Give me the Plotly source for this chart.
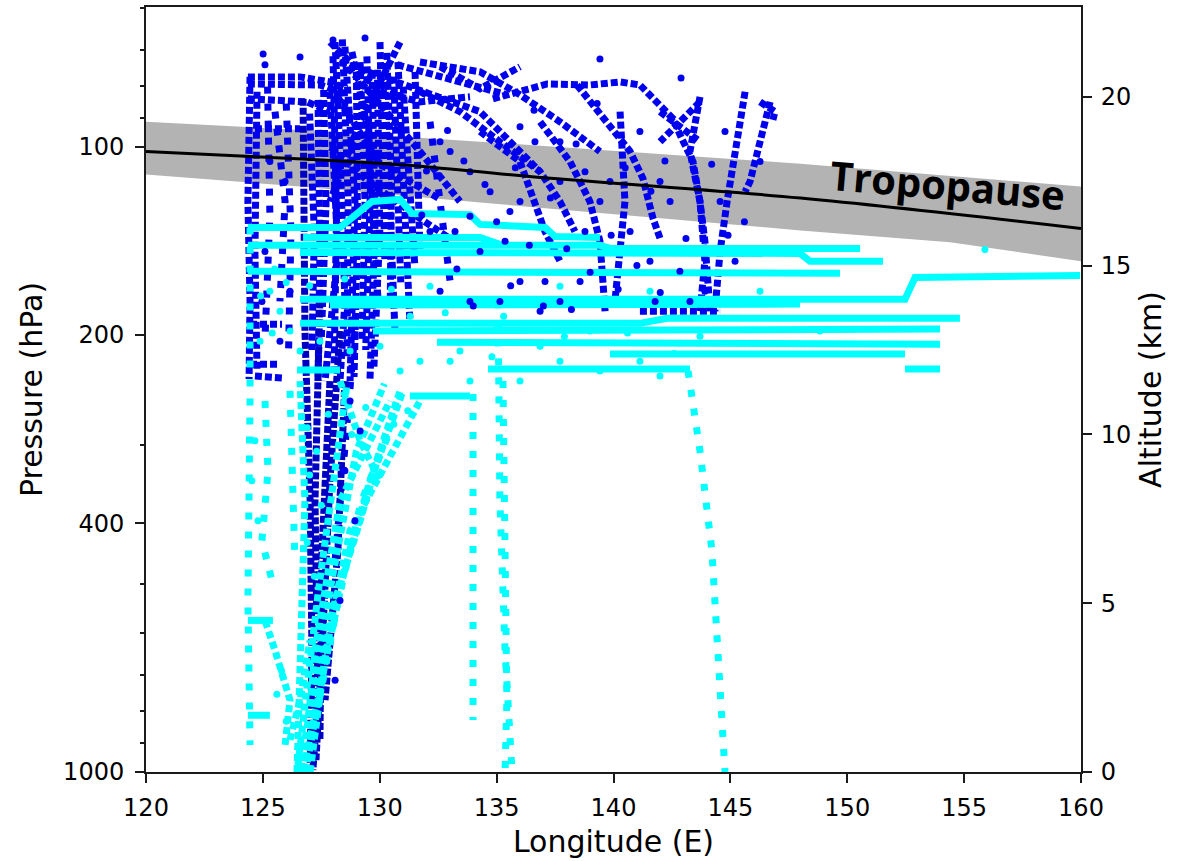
import math
import plotly.graph_objects as go

# ---------------------------------------------------------------------------
# Axis geometry: altitude (km) on the right, pressure (hPa, log) on the left.
# 100 hPa sits at 18.52 km; one pressure decade spans 18.52 km.
# ---------------------------------------------------------------------------
ALT_TOP = 22.66
KM_PER_DECADE = 18.52
P_TOP = 10 ** (3 - ALT_TOP / KM_PER_DECADE)

lon_ticks = [120, 125, 130, 135, 140, 145, 150, 155, 160]
alt_ticks = [0, 5, 10, 15, 20]
p_ticks = [100, 200, 400, 1000]
p_minor_ticks = [60, 70, 80, 90, 300, 500, 600, 700, 800, 900]

# Tropopause (km) and its uncertainty band
tropopause_lon = [120.0, 123.6, 130.9, 136.4, 148.0, 160.0]
tropopause_alt = [18.38, 18.26, 17.99, 17.64, 17.00, 16.10]
band_top_lon = [120.0, 126.6, 134.3, 148.0, 160.0]
band_top_alt = [19.26, 19.02, 18.67, 18.02, 17.34]
band_bot_lon = [120.0, 126.6, 134.3, 148.0, 154.4, 160.0]
band_bot_alt = [17.70, 17.34, 16.87, 16.04, 15.69, 15.13]

# ---------------------------------------------------------------------------
# Blue trajectories (longitude, altitude km)
# ---------------------------------------------------------------------------
blue_upper_tracks = [
    ([124.45, 124.36, 124.45, 124.41], [20.59, 16.90, 13.94, 11.64]),
    ([124.75, 124.66, 124.75], [20.15, 15.42, 11.88]),
    ([124.36, 126.59, 127.87, 128.60], [20.59, 20.59, 20.44, 20.24]),
    ([124.36, 127.44, 128.51], [20.38, 20.35, 20.09]),
    ([124.36, 126.89, 127.87], [19.94, 19.85, 19.56]),
    ([124.66, 126.59], [19.05, 19.05]),
    ([130.74, 135.44], [20.95, 20.06]),
    ([124.45, 125.82], [13.26, 13.26]),
    ([124.45, 125.73], [12.08, 12.08]),
    ([124.66, 125.82], [11.73, 11.67]),
]

blue_column_tracks = [
    ([128.09, 128.30, 128.51, 128.30], [21.62, 18.38, 13.94, 11.58]),
    ([128.51, 128.94, 128.73], [21.48, 16.90, 11.58]),
    ([129.16, 129.37, 129.24], [21.03, 16.90, 12.76]),
    ([129.67, 129.80, 129.58], [20.74, 16.31, 11.58]),
    ([130.22, 130.44, 130.65], [20.44, 16.90, 13.06]),
    ([130.78, 131.08, 131.29], [21.03, 16.90, 13.35]),
    ([131.51, 131.72], [20.74, 15.42]),
    ([127.87, 128.21, 127.66], [20.15, 15.42, 11.58]),
    ([130.01, 130.10, 130.22], [21.62, 18.38, 15.13]),
    ([128.81, 129.50, 129.93], [21.33, 18.97, 13.94]),
    ([127.36, 127.44, 127.36], [19.91, 15.42, 11.58]),
    ([128.00, 128.15, 128.05], [21.20, 16.50, 12.00]),
    ([128.40, 128.65, 128.60], [21.70, 17.00, 12.30]),
    ([129.00, 129.05, 128.90], [21.00, 16.00, 11.70]),
    ([129.45, 129.60, 129.40], [21.20, 17.20, 12.50]),
    ([129.90, 130.00, 129.75], [20.80, 16.00, 12.00]),
    ([130.30, 130.50, 130.45], [21.30, 17.50, 14.00]),
    ([130.60, 130.80, 130.90], [20.60, 17.00, 14.50]),
    ([131.00, 131.25, 131.50], [20.30, 17.50, 15.00]),
    ([127.00, 127.20, 127.10], [19.50, 16.00, 12.50]),
    ([127.60, 127.70, 127.50], [20.20, 16.80, 12.80]),
    ([128.09, 131.72, 133.43], [21.33, 18.38, 16.90]),
    ([128.30, 134.29, 136.86], [21.03, 19.56, 17.78]),
    ([127.87, 130.01, 131.72, 133.86], [21.62, 20.15, 19.85, 20.00]),
    ([130.87, 129.16, 127.87], [21.62, 19.26, 16.90]),
    ([128.20, 130.00, 132.50], [20.00, 18.00, 17.00]),
    ([127.90, 129.50, 131.50, 133.00], [18.50, 17.50, 16.50, 15.80]),
]

blue_sparse_tracks = [
    ([125.52, 125.95, 125.73], [19.56, 16.90, 13.94]),
    ([128.94, 128.51, 128.09], [13.06, 9.51, 6.26]),
    ([132.15, 132.58, 133.01], [19.26, 16.90, 14.53]),
    ([125.20, 125.30, 125.10], [20.30, 16.50, 13.00]),
    ([126.00, 126.20, 126.10], [19.80, 16.00, 12.50]),
]

blue_funnel_tracks = [
    ([126.72, 126.80, 127.02, 127.10, 127.02], [19.94, 13.06, 8.04, 3.60, 0.06]),
    ([127.44, 127.23, 127.36, 127.14], [13.94, 8.04, 2.13, 0.06]),
    ([128.30, 127.87, 127.53, 127.27], [13.06, 8.63, 3.60, 0.35]),
    ([128.51, 128.21, 127.66], [11.58, 6.56, 2.13]),
    ([127.87, 127.53, 127.44], [11.58, 6.56, 0.95]),
]

blue_right_tracks = [
    ([131.72, 134.29, 136.00, 137.71, 139.42], [21.03, 20.74, 20.06, 19.26, 18.38]),
    ([134.84, 136.00, 137.16, 138.99, 140.28, 141.13, 141.86, 142.55, 142.84,
      143.40, 143.70, 143.91, 144.13],
     [19.94, 20.15, 20.38, 20.35, 20.44, 20.35, 19.85, 19.35, 18.88,
      18.08, 16.90, 15.72, 13.65]),
    ([138.44, 139.98, 140.71, 141.26, 141.69, 141.99], [20.35, 19.05, 18.38, 17.58, 16.40, 15.81]),
    ([131.72, 133.43, 135.14, 136.86, 137.71, 138.35], [20.15, 19.56, 18.67, 17.78, 16.90, 16.01]),
    ([132.58, 134.29, 136.00], [20.89, 20.24, 20.89]),
    ([145.63, 145.41, 144.98, 144.86, 144.56, 144.34], [20.15, 19.26, 17.49, 16.90, 15.42, 13.65]),
    ([146.70, 146.27, 145.84, 145.63], [19.85, 18.67, 17.49, 17.19]),
    ([146.27, 146.91, 146.82], [19.85, 19.56, 19.32]),
    ([143.70, 143.27, 143.70, 143.91, 143.70], [20.00, 18.38, 16.90, 15.13, 13.65]),
    ([141.99, 143.70], [19.56, 18.67]),
    ([143.70, 141.99], [19.85, 18.67]),
    ([136.86, 138.14, 138.99, 139.42, 139.64], [19.26, 18.08, 16.90, 15.72, 13.65]),
    ([134.29, 136.00, 137.07, 137.71], [18.97, 18.08, 16.01, 15.13]),
    ([141.13, 144.56], [13.65, 13.65]),
    ([140.28, 140.49, 140.06], [19.56, 16.90, 13.94]),
]

blue_dot_lon = [125.01, 125.09, 128.00, 129.37, 126.59, 139.42, 142.89, 133.01, 133.86,
                134.72, 135.57, 133.22, 134.29, 136.00, 136.64, 137.71, 138.78, 139.42,
                140.71, 141.56, 142.42, 142.84, 143.27, 137.71, 138.57, 136.00, 135.14,
                133.86, 132.58, 136.86, 139.85, 141.99, 144.56, 145.20, 137.07, 138.78,
                135.36, 133.86, 132.15, 141.13, 136.00, 137.71, 132.58, 146.27, 144.77,
                141.78, 143.91, 125.30, 125.95, 125.09, 126.16, 125.73, 124.96, 128.73,
                129.16, 128.51, 128.94, 128.30, 128.09,
                132.90, 133.60, 134.50, 135.00, 135.80, 136.40, 137.30, 138.00, 138.40,
                139.00, 139.90, 140.50, 141.00, 141.60, 142.20, 142.00, 143.10, 144.20,
                144.90, 145.60, 133.30, 134.00, 135.60, 137.00, 138.20, 140.20, 132.00,
                131.80, 136.60, 139.30]
blue_dot_alt = [21.27, 20.95, 21.68, 21.74, 21.18, 21.12, 20.56, 18.38, 17.78,
                17.19, 16.60, 16.01, 15.42, 16.90, 18.67, 17.49, 17.78, 16.90,
                16.01, 15.13, 16.90, 14.83, 13.94, 13.94, 14.53, 14.53, 13.94,
                13.94, 14.24, 13.65, 17.49, 17.49, 16.90, 15.13, 14.53, 16.01,
                15.72, 16.46, 16.01, 18.97, 19.11, 18.67, 18.67, 18.08, 18.97,
                13.94, 14.24, 18.08, 17.49, 15.42, 14.24, 12.76, 13.94, 10.99,
                10.10, 8.92, 7.44, 5.08, 2.72,
                19.00, 18.10, 17.40, 16.30, 17.90, 15.60, 17.00, 15.50, 18.60,
                14.80, 15.90, 17.90, 15.00, 17.20, 18.10, 14.20, 15.80, 18.00,
                15.90, 16.30, 14.90, 13.80, 14.40, 13.80, 13.70, 14.30, 17.80,
                16.50, 19.60, 19.80]

# ---------------------------------------------------------------------------
# Cyan trajectories (longitude, altitude km)
# ---------------------------------------------------------------------------
cyan_level_tracks = [
    ([124.36, 128.30, 129.67, 130.87, 131.38, 133.86, 134.29, 137.07, 137.50, 139.42],
     [16.13, 16.13, 16.90, 16.96, 16.54, 16.51, 16.22, 16.13, 15.86, 15.83]),
    ([124.36, 139.42, 139.85, 150.55], [15.60, 15.60, 15.51, 15.51]),
    ([126.59, 147.98, 148.41, 151.53], [15.39, 15.36, 15.13, 15.13]),
    ([124.36, 149.69], [14.83, 14.77]),
    ([126.59, 152.47, 152.90, 159.96], [14.00, 14.00, 14.65, 14.71]),
    ([127.87, 147.98], [13.83, 13.86]),
    ([126.59, 141.13, 142.29, 154.82], [13.29, 13.29, 13.44, 13.44]),
    ([129.71, 153.97], [13.06, 13.12]),
    ([132.45, 139.85, 153.97], [12.73, 12.70, 12.67]),
    ([139.85, 152.47], [12.38, 12.38]),
    ([134.63, 143.27], [11.94, 11.94]),
    ([152.47, 153.97], [11.94, 11.94]),
    ([126.46, 128.30], [11.91, 11.91]),
    ([131.29, 133.86], [11.14, 11.14]),
    ([126.72, 134.29, 135.14], [15.83, 15.83, 15.63]),
    ([124.36, 125.43], [4.49, 4.49]),
    ([124.36, 125.30], [1.68, 1.68]),
]

cyan_descent_tracks = [
    ([124.45, 124.45, 124.36, 124.45], [16.13, 10.99, 5.08, 0.80]),
    ([125.09, 125.22, 124.96, 125.39], [10.99, 8.92, 6.85, 5.67]),
    ([133.99, 133.99], [11.20, 1.54]),
    ([135.06, 135.14, 135.36, 135.66], [13.94, 8.04, 3.60, 0.00]),
    ([135.27, 135.44, 135.36], [11.58, 2.13, 0.00]),
    ([143.19, 143.70, 144.21, 144.56, 144.77], [11.88, 9.51, 6.56, 2.72, 0.00]),
    ([126.16, 126.29, 126.37], [11.29, 8.04, 6.26]),
    ([127.10, 128.20, 129.20, 130.50], [1.00, 5.00, 8.00, 10.20]),
]

cyan_funnel_tracks = [
    ([126.46, 126.59, 126.80, 126.59], [0.00, 3.60, 8.04, 11.58]),
    ([126.80, 127.23, 128.30, 130.44], [0.00, 3.60, 8.04, 10.99]),
    ([126.59, 127.66, 128.73, 131.72], [0.35, 3.60, 7.15, 10.99]),
    ([127.02, 127.87, 129.58, 130.87], [0.00, 4.49, 8.63, 11.29]),
    ([126.72, 127.36, 128.09, 129.16, 130.01], [0.06, 2.13, 5.08, 7.44, 9.51]),
    ([125.95, 126.16, 125.52, 125.09], [0.80, 2.13, 3.60, 4.49]),
    ([128.30, 129.16, 130.01], [11.58, 9.81, 8.63]),
    ([126.16, 126.59, 127.02], [0.95, 2.13, 3.90]),
    ([126.90, 127.60, 128.50, 129.80, 131.00], [0.30, 3.00, 6.00, 9.00, 11.30]),
    ([126.50, 126.90, 127.40, 128.00, 128.60], [0.20, 2.50, 5.50, 8.50, 11.50]),
    ([126.70, 127.00, 127.90, 129.00, 130.20], [0.00, 2.00, 5.50, 9.50, 11.50]),
]

cyan_dot_lon = [125.30, 125.73, 124.88, 126.16, 126.59, 127.44, 128.73, 130.01, 130.87,
                131.72, 133.01, 133.86, 136.00, 137.71, 139.42, 133.43, 136.86, 138.99,
                141.13, 141.99, 124.66, 124.53, 124.79, 155.89, 132.15, 137.71, 141.56,
                146.27, 148.83, 143.70,
                126.90, 127.30, 127.80, 128.80, 129.40, 130.60, 131.20, 127.00, 127.50,
                126.90, 127.20, 125.80, 125.60, 126.00, 125.50, 126.00, 124.90, 125.40,
                127.00, 128.50, 130.50, 131.30, 132.80, 135.30, 137.90, 140.60, 142.60,
                134.80]
cyan_dot_alt = [14.24, 13.65, 12.76, 13.06, 12.47, 12.76, 12.47, 12.61, 11.88,
                12.17, 12.17, 11.58, 11.58, 12.17, 11.88, 12.47, 12.61, 13.06,
                12.17, 11.73, 9.81, 8.63, 7.44, 15.48, 14.39, 14.39, 14.24,
                14.24, 13.06, 12.91,
                10.20, 9.50, 10.60, 10.00, 10.80, 10.30, 10.70, 8.80, 7.90,
                6.80, 5.80, 3.00, 2.30, 1.50, 14.90, 14.50, 14.10, 13.00,
                14.40, 14.60, 14.30, 13.50, 13.60, 13.50, 12.90, 13.00, 12.40,
                12.30]

BLUE = "#0000ee"
BLUE_DARK = "#0000c4"
CYAN = "#00ffff"

fig = go.Figure()

# Tropopause uncertainty band
fig.add_trace(go.Scatter(
    x=band_top_lon + band_bot_lon[::-1],
    y=band_top_alt + band_bot_alt[::-1],
    mode="lines", fill="toself", fillcolor="#b3b3b3",
    line=dict(width=0, color="#b3b3b3"), hoverinfo="skip",
))


def add_tracks(tracks, color, width, dash):
    xs, ys = [], []
    for lon, alt in tracks:
        xs += list(lon) + [None]
        ys += list(alt) + [None]
    fig.add_trace(go.Scatter(
        x=xs, y=ys, mode="lines",
        line=dict(color=color, width=width, dash=dash),
        hoverinfo="skip",
    ))


def add_dots(lon, alt, color):
    fig.add_trace(go.Scatter(
        x=lon, y=alt, mode="markers",
        marker=dict(color=color, size=7, line=dict(width=0)),
        hoverinfo="skip",
    ))


add_tracks(blue_upper_tracks, BLUE, 7, "7px,3px")
add_tracks(blue_column_tracks, BLUE, 7, "7px,3px")
add_tracks(blue_sparse_tracks, BLUE, 7, "7px,10px")
add_tracks(blue_right_tracks, BLUE, 7, "7px,3px")
add_tracks(blue_funnel_tracks, BLUE_DARK, 7, "7px,2px")

add_tracks(cyan_funnel_tracks, CYAN, 7, "7px,4px")
add_tracks(cyan_descent_tracks, CYAN, 7, "7px,12px")
add_tracks(cyan_level_tracks, CYAN, 7, "solid")

add_dots(blue_dot_lon, blue_dot_alt, BLUE)
add_dots(cyan_dot_lon, cyan_dot_alt, CYAN)

# Tropopause line
fig.add_trace(go.Scatter(
    x=tropopause_lon, y=tropopause_alt, mode="lines",
    line=dict(color="black", width=3, shape="spline"), hoverinfo="skip",
))

# Empty traces so the pressure axes are created
fig.add_trace(go.Scatter(x=[None], y=[None], yaxis="y2", showlegend=False))
fig.add_trace(go.Scatter(x=[None], y=[None], yaxis="y3", showlegend=False))

fig.add_annotation(
    x=154.3, y=17.40, xref="x", yref="y",
    text="Tropopause", showarrow=False, textangle=5,
    font=dict(family="Open Sans", size=40, color="black", weight="bold"),
)

AXIS_COLOR = "#1a1a1a"
p_range = [3, math.log10(P_TOP)]

fig.update_layout(
    width=1192, height=861,
    margin=dict(l=146, r=111, t=5, b=89),
    plot_bgcolor="white", paper_bgcolor="white",
    showlegend=False,
    font=dict(family="DejaVu Sans", size=24, color="black"),
    xaxis=dict(
        range=[120, 160], tickvals=lon_ticks, ticks="outside", ticklen=9,
        tickwidth=1.5, tickcolor=AXIS_COLOR, ticklabelstandoff=4,
        showline=True, linecolor=AXIS_COLOR, linewidth=2, mirror=True,
        showgrid=False, zeroline=False,
        title=dict(text="Longitude (E)", font=dict(size=30), standoff=10),
    ),
    yaxis=dict(
        range=[0, ALT_TOP], side="right", tickvals=alt_ticks, ticks="outside",
        ticklen=9, tickwidth=1.5, tickcolor=AXIS_COLOR, ticklabelstandoff=4,
        showline=True, linecolor=AXIS_COLOR, linewidth=2,
        showgrid=False, zeroline=False,
        title=dict(text="Altitude (km)", font=dict(size=30), standoff=10),
    ),
    yaxis2=dict(
        overlaying="y", side="left", type="log", range=p_range,
        tickvals=p_ticks, ticktext=[str(v) for v in p_ticks],
        ticks="outside", ticklen=9, tickwidth=1.5, tickcolor=AXIS_COLOR,
        ticklabelstandoff=6,
        showline=True, linecolor=AXIS_COLOR, linewidth=2,
        showgrid=False, zeroline=False,
        title=dict(text="Pressure (hPa)", font=dict(size=30), standoff=12),
    ),
    yaxis3=dict(
        overlaying="y", side="left", type="log", range=p_range,
        tickvals=p_minor_ticks, ticktext=[""] * len(p_minor_ticks),
        ticks="outside", ticklen=5, tickwidth=1.5, tickcolor=AXIS_COLOR,
        showticklabels=False, showline=False, showgrid=False, zeroline=False,
    ),
)

fig.write_html("out.html")
